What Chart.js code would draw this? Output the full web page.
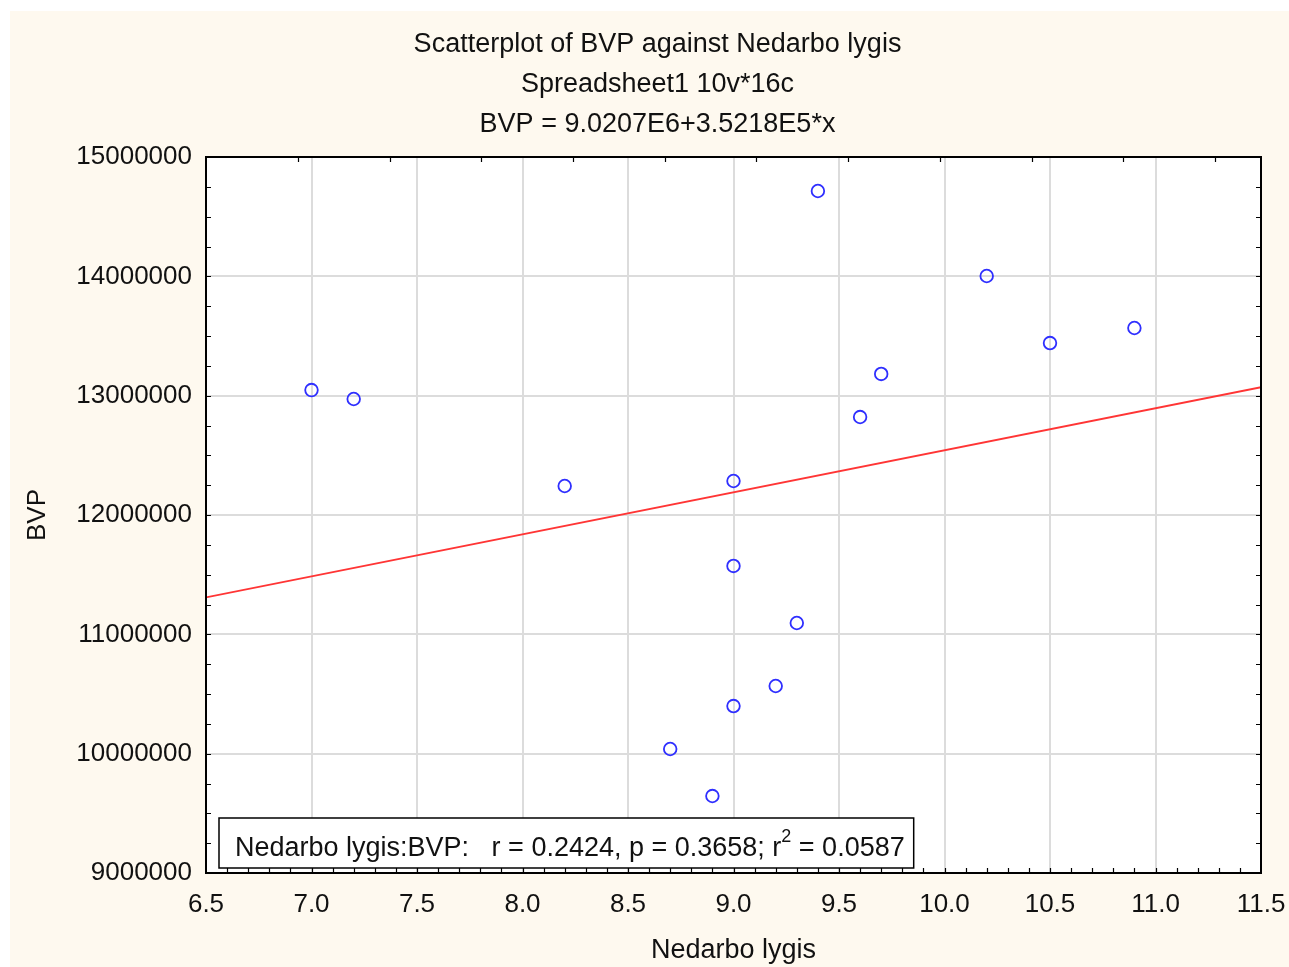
<!DOCTYPE html>
<html><head><meta charset="utf-8">
<script src="https://cdn.jsdelivr.net/npm/chart.js@4/dist/chart.umd.min.js"></script>
<style>html,body{margin:0;padding:0;background:#fff;}#wrap{width:1289px;height:967px;position:relative}</style>
</head><body><div id="wrap"><canvas id="c" width="1289" height="967"></canvas></div>
<script>
// ---- data ----
const titleLines = ['Scatterplot of BVP against Nedarbo lygis', 'Spreadsheet1 10v*16c', 'BVP = 9.0207E6+3.5218E5*x'];
const xAxisTitle = 'Nedarbo lygis';
const yAxisTitle = 'BVP';
const nedarboLygis = [7.0, 7.2, 8.2, 9.0, 9.0, 9.4, 10.2, 10.5, 10.9, 9.7, 9.6, 9.3, 9.2, 9.0, 8.7, 8.9];
const bvp = [13047000, 12972000, 12243000, 12285000, 11573000, 14715000, 14003000, 13441000, 13567000, 13182000, 12821000, 11095000, 10567000, 10399000, 10039000, 9645000];
const fitX = [6.5, 11.5];
const fitY = [11309870, 13070770];
const statsLabel = 'Nedarbo lygis:BVP:   r = 0.2424, p = 0.3658; r';
const statsSup = '2';
const statsTail = ' = 0.0587';
const xRange = [6.5, 11.5];
const yRange = [9000000, 15000000];
const topTickValues = [6.935, 7.370, 7.804, 8.239, 8.674, 9.109, 9.543, 9.978, 10.413, 10.848, 11.283];

const FONT = "'Liberation Sans', Arial, sans-serif";
const TXT = '#111';

const scatterData = nedarboLygis.map((x, i) => ({x, y: bvp[i]}));
const fitData = fitX.map((x, i) => ({x, y: fitY[i]}));

const decor = {
  id: 'decor',
  afterLayout(chart) {
    if (chart.titleBlock) {
      chart.titleBlock.left = 26;
      chart.titleBlock.right = 1289;
    }
  },
  beforeDraw(chart) {
    const {ctx, chartArea: a} = chart;
    ctx.save();
    ctx.fillStyle = '#ffffff';
    ctx.fillRect(0, 0, chart.width, chart.height);
    ctx.fillStyle = '#fef9ef';
    ctx.fillRect(10, 11, chart.width - 10, chart.height - 11);
    ctx.fillStyle = '#ffffff';
    ctx.fillRect(a.left, a.top, a.right - a.left, a.bottom - a.top);
    ctx.restore();
  },
  afterDatasetsDraw(chart) {
    const {ctx, chartArea: a} = chart;
    ctx.save();
    const big = '27px ' + FONT, small = '18px ' + FONT;
    ctx.font = big;
    const w1 = ctx.measureText(statsLabel).width;
    ctx.font = small;
    const w2 = ctx.measureText(statsSup).width;
    ctx.font = big;
    const w3 = ctx.measureText(statsTail).width;
    const bx = a.left + 13, by = a.bottom - 55, bh = 50;
    const bw = 16 + w1 + w2 + w3 + 9;
    ctx.fillStyle = '#fff';
    ctx.fillRect(bx, by, bw, bh);
    ctx.strokeStyle = '#000';
    ctx.lineWidth = 1.5;
    ctx.strokeRect(bx, by, bw, bh);
    ctx.fillStyle = TXT;
    ctx.textBaseline = 'alphabetic';
    const base = by + 38;
    ctx.fillText(statsLabel, bx + 16, base);
    ctx.font = small;
    ctx.fillText(statsSup, bx + 16 + w1, base - 14);
    ctx.font = big;
    ctx.fillText(statsTail, bx + 16 + w1 + w2, base);
    ctx.restore();
  },
  afterDraw(chart) {
    const {ctx, chartArea: a, scales} = chart;
    const xs = scales.x, ys = scales.y;
    ctx.save();
    ctx.strokeStyle = '#000';
    ctx.lineWidth = 1.2;
    ctx.beginPath();
    const L = 5;
    for (let k = 1; k < 50; k++) {
      const v = xRange[0] + k * 0.1;
      const px = Math.round(xs.getPixelForValue(v)) + 0.5;
      ctx.moveTo(px, a.bottom); ctx.lineTo(px, a.bottom - L);
    }
    for (const v of topTickValues) {
      const px = Math.round(xs.getPixelForValue(v)) + 0.5;
      ctx.moveTo(px, a.top); ctx.lineTo(px, a.top + L);
    }
    for (let k = 1; k < 24; k++) {
      const v = yRange[0] + k * 250000;
      const py = Math.round(ys.getPixelForValue(v)) + 0.5;
      ctx.moveTo(a.left, py); ctx.lineTo(a.left + L, py);
      ctx.moveTo(a.right, py); ctx.lineTo(a.right - L, py);
    }
    ctx.stroke();
    ctx.lineWidth = 2;
    ctx.strokeRect(a.left, a.top, a.right - a.left, a.bottom - a.top);
    ctx.restore();
  }
};

new Chart(document.getElementById('c'), {
  type: 'scatter',
  data: {
    datasets: [
      {
        type: 'line',
        label: 'fit',
        data: fitData,
        borderColor: '#ff3535',
        borderWidth: 1.8,
        pointRadius: 0,
        fill: false,
        tension: 0,
        order: 2
      },
      {
        label: 'BVP',
        data: scatterData,
        pointStyle: 'circle',
        pointRadius: 6.3,
        pointBorderWidth: 1.8,
        borderColor: '#2f2fff',
        backgroundColor: 'rgba(0,0,0,0)',
        pointBackgroundColor: 'rgba(0,0,0,0)',
        pointBorderColor: '#2f2fff',
        order: 1
      }
    ]
  },
  options: {
    responsive: false,
    animation: false,
    devicePixelRatio: 1,
    layout: {padding: {left: 0, right: 28, top: 0, bottom: 0}},
    plugins: {
      legend: {display: false},
      tooltip: {enabled: false},
      title: {
        display: true,
        text: titleLines,
        color: TXT,
        font: {family: FONT, size: 27, weight: 'normal', lineHeight: '40px'},
        padding: {top: 25, bottom: 12}
      }
    },
    scales: {
      x: {
        type: 'linear',
        min: xRange[0], max: xRange[1],
        afterFit(s) { s.height = 94; s.paddingRight = 0; s.paddingLeft = 0; },
        ticks: {stepSize: 0.5, color: TXT, padding: 16, maxRotation: 0,
          font: {family: FONT, size: 26}, callback: v => Number(v).toFixed(1)},
        grid: {color: '#dcdcdc', lineWidth: 2, drawTicks: false},
        border: {display: false},
        title: {display: true, text: xAxisTitle, color: TXT,
          font: {family: FONT, size: 27}, padding: {top: 0, bottom: 0}}
      },
      y: {
        type: 'linear',
        min: yRange[0], max: yRange[1],
        afterFit(s) { s.width = 206; s.paddingTop = 0; s.paddingBottom = 0; },
        ticks: {stepSize: 1000000, color: TXT, padding: 14,
          font: {family: FONT, size: 26}, callback: v => Number(v).toFixed(0)},
        grid: {color: '#dcdcdc', lineWidth: 2, drawTicks: false},
        border: {display: false},
        title: {display: true, text: yAxisTitle, color: TXT,
          font: {family: FONT, size: 26}, padding: {top: 22, bottom: 0}}
      }
    }
  },
  plugins: [decor]
});
</script>
</body></html>
